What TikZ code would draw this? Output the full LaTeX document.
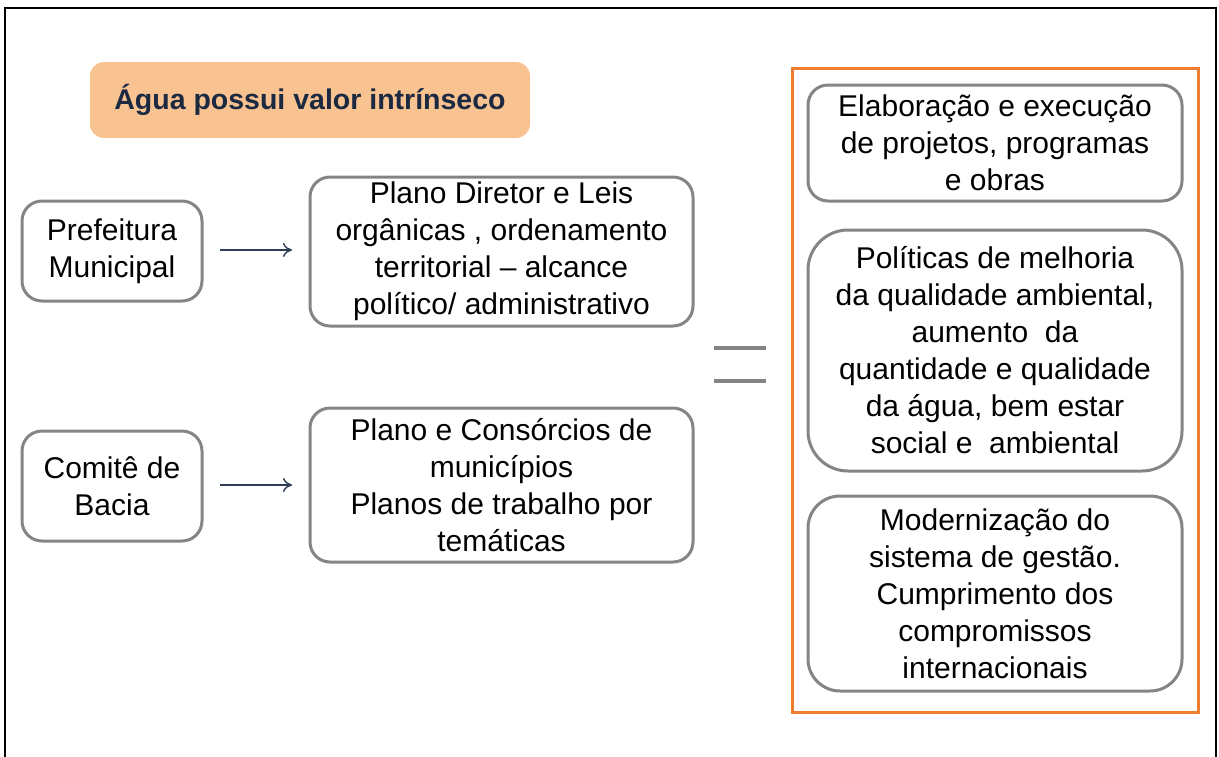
\documentclass[tikz,border=0pt]{standalone}
\usepackage{fontspec}
\setmainfont{Liberation Sans}
\usetikzlibrary{arrows.meta}
\definecolor{boxgray}{HTML}{858585}
\definecolor{titlefill}{HTML}{F8C291}
\definecolor{navy}{HTML}{1B2A41}
\definecolor{frameorange}{HTML}{ED7D31}
\definecolor{arrownavy}{HTML}{2F3E55}
\begin{document}
\begin{tikzpicture}[x=1pt,y=-1pt,
  gbox/.style={draw=boxgray,line width=3pt,rounded corners=20pt,fill=white,
    align=center,inner sep=0pt,font=\fontsize{30}{37}\selectfont,text=black},
  titlebox/.style={fill=titlefill,rounded corners=14pt,align=center,inner sep=0pt,
    font=\fontsize{28.5}{32}\selectfont\bfseries,text=navy},
  flow/.style={draw=arrownavy,line width=1.4pt,-{To[length=9pt,width=14pt]}},
  eqbar/.style={draw=boxgray,line width=4pt}]
\useasboundingbox (0,0) rectangle (1219,756);
% outer frame
\draw[line width=1.6pt] (5,780) -- (5,8) -- (1216,8) -- (1216,780);
% title
\node[titlebox,minimum width=440pt,minimum height=76pt] (title) at (310,100) {Água possui valor intrínseco};
% left boxes
\node[gbox,minimum width=180pt,minimum height=100pt] (pref) at (112,251) {Prefeitura\\Municipal};
\node[gbox,minimum width=180pt,minimum height=110pt] (comite) at (112,486) {Comitê de\\Bacia};
\node[gbox,minimum width=383pt,minimum height=149pt] (plano) at (501.5,251.5) {Plano Diretor e Leis\\orgânicas , ordenamento\\territorial – alcance\\político/ administrativo};
\node[gbox,minimum width=383pt,minimum height=154pt] (consorcio) at (501.5,485) {Plano e Consórcios de\\municípios\\Planos de trabalho por\\temáticas};
\coordinate (a1s) at (220,250); \coordinate (a1e) at (292,250);
\coordinate (a2s) at (220,485); \coordinate (a2e) at (292,485);
\draw[flow] (a1s) -- (a1e);
\draw[flow] (a2s) -- (a2e);
% equals sign
\coordinate (e1a) at (714,348); \coordinate (e1b) at (766,348);
\coordinate (e2a) at (714,381); \coordinate (e2b) at (766,381);
\draw[eqbar] (e1a) -- (e1b);
\draw[eqbar] (e2a) -- (e2b);
% orange frame
\node[draw=frameorange,line width=3pt,minimum width=406pt,minimum height=644pt,inner sep=0pt] (frame) at (995,390) {};
% right boxes
\node[gbox,minimum width=374pt,minimum height=116pt] (r1) at (995,143) {Elaboração e execução\\de projetos, programas\\e obras};
\node[gbox,minimum width=374pt,minimum height=241pt,rounded corners=40pt] (r2) at (995,350.5) {Políticas de melhoria\\da qualidade ambiental,\\aumento\ \ da\\quantidade e qualidade\\da água, bem estar\\social e\ \ ambiental};
\node[gbox,minimum width=374pt,minimum height=195pt,rounded corners=32pt] (r3) at (995,593.5) {Modernização do\\sistema de gestão.\\Cumprimento dos\\compromissos\\internacionais};
\end{tikzpicture}
\end{document}
